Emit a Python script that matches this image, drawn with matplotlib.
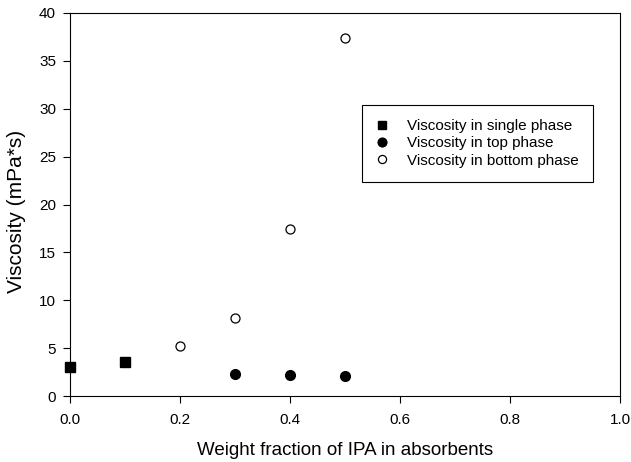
import matplotlib
matplotlib.use('Agg')
from matplotlib import pyplot as plt

plt.rcParams['font.family'] = ['Liberation Sans', 'DejaVu Sans']

# data
single_x = [0.0, 0.1]
single_y = [3.0, 3.55]
top_x = [0.3, 0.4, 0.5]
top_y = [2.3, 2.2, 2.1]
bottom_x = [0.2, 0.3, 0.4, 0.5]
bottom_y = [5.2, 8.15, 17.4, 37.4]

fig = plt.figure(figsize=(6.31, 4.62), dpi=100)
# axes box: x 70..620 px, y 13..396 px
ax = fig.add_axes([70 / 631, 66 / 462, 550 / 631, 383 / 462])

ax.plot(single_x, single_y, 's', color='black', markersize=6.5,
        label='Viscosity in single phase', clip_on=False)
ax.plot(top_x, top_y, 'o', color='black', markersize=7,
        label='Viscosity in top phase', clip_on=False)
ax.plot(bottom_x, bottom_y, 'o', markerfacecolor='white', markeredgecolor='black',
        markersize=6.5, markeredgewidth=0.9, label='Viscosity in bottom phase',
        clip_on=False)

ax.set_xlim(0, 1.0)
ax.set_ylim(0, 40)
ax.set_xticks([0.0, 0.2, 0.4, 0.6, 0.8, 1.0])
ax.set_xticklabels(['0.0', '0.2', '0.4', '0.6', '0.8', '1.0'])
ax.set_yticks(range(0, 41, 5))
ax.tick_params(direction='out', length=5, labelsize=11, width=0.8)
ax.tick_params(axis='x', pad=7)
ax.tick_params(axis='y', pad=5)
for s in ax.spines.values():
    s.set_linewidth(0.8)

ax.set_xlabel('Weight fraction of IPA in absorbents', fontsize=13.5, labelpad=11)
ax.set_ylabel('Viscosity (mPa*s)', fontsize=15)
# label sits a bit below the axis middle in the reference
ax.yaxis.set_label_coords(-0.08, 0.483)

leg = ax.legend(loc='upper left', bbox_to_anchor=(0.531, 0.760), borderaxespad=0,
                fontsize=11, frameon=True, fancybox=False, edgecolor='black',
                handletextpad=1.3, borderpad=0.95, labelspacing=0.2,
                handlelength=0.7, markerscale=0.9)
leg.get_frame().set_linewidth(0.8)
leg.get_frame().set_facecolor('white')
leg.get_frame().set_alpha(None)

fig.savefig('out.png', dpi=100)
